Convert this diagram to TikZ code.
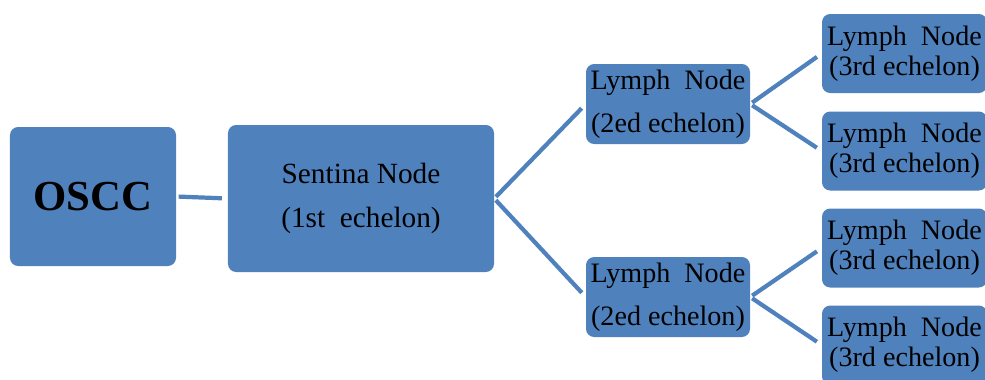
\documentclass[tikz,border=0pt]{standalone}
\usepackage{fontspec}
\setmainfont{Liberation Serif}
\usetikzlibrary{calc}

\definecolor{boxblue}{HTML}{4F81BD}

\begin{document}
\begin{tikzpicture} [x=0.03cm, y=-0.03cm,
  box/.style={fill=boxblue, rounded corners=7pt, inner sep=0pt, align=center, text=black},
  link/.style={draw=boxblue, line width=3.6pt, shorten >=5pt, shorten <=2pt}]
\useasboundingbox (0,0) rectangle (985,379);
% boxes
\node[box, minimum width=4.98cm, minimum height=4.17cm, font=\fontsize{36.5}{40}\selectfont\bfseries] (oscc) at (93,196.5) {OSCC};
\node[box, minimum width=7.98cm, minimum height=4.41cm, font=\fontsize{25}{37.5}\selectfont] (sent) at (361,198.5) {Sentina Node\\(1st\ \ echelon)};
\node[box, minimum width=4.92cm, minimum height=2.4cm, font=\fontsize{24}{36.7}\selectfont] (ln2a) at (668,104) {Lymph\ \ Node\\(2ed echelon)};
\node[box, minimum width=4.92cm, minimum height=2.4cm, font=\fontsize{24}{36.7}\selectfont] (ln2b) at (668,297) {Lymph\ \ Node\\(2ed echelon)};
\foreach \name/\y in {ln3a/53.5, ln3b/151, ln3c/248, ln3d/345} {
 \node[box, minimum width=4.95cm, minimum height=2.37cm, font=\fontsize{24}{25.6}\selectfont] (\name) at (904.5,\y) {Lymph\ \ Node\\(3rd echelon)};
}
% connectors
\draw[link] (oscc.east) -- (sent.west);
\draw[link] (sent.east) -- (ln2a.west);
\draw[link] (sent.east) -- (ln2b.west);
\draw[link] (ln2a.east) -- (ln3a.west);
\draw[link] (ln2a.east) -- (ln3b.west);
\draw[link] (ln2b.east) -- (ln3c.west);
\draw[link] (ln2b.east) -- (ln3d.west);
\end{tikzpicture}
\end{document}
